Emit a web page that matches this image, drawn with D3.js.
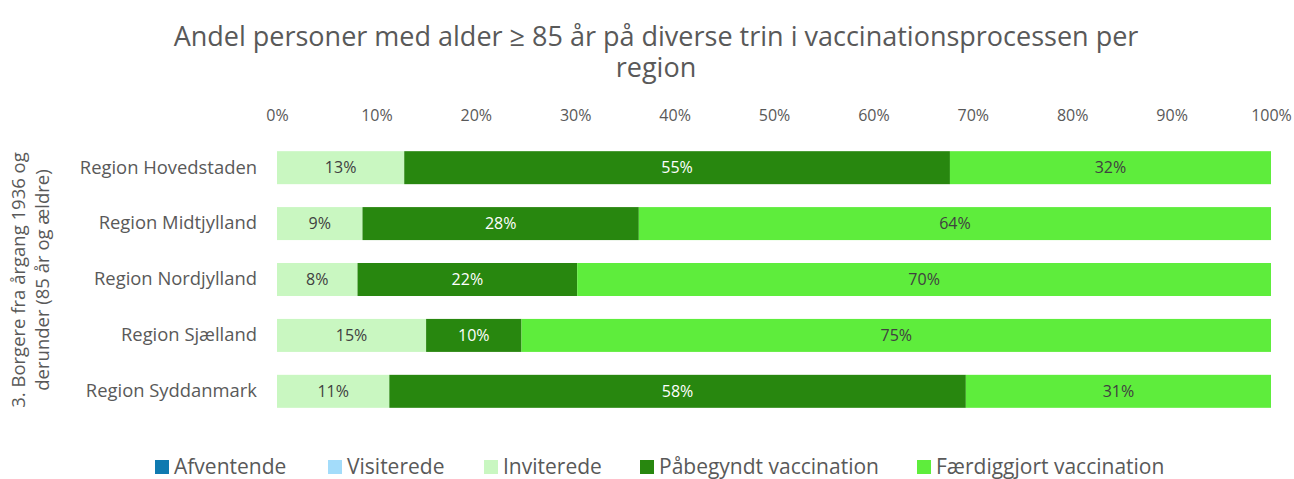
<!DOCTYPE html>
<html>
<head>
<meta charset="utf-8">
<script src="https://cdn.jsdelivr.net/npm/d3@7"></script>
<style>
  body { margin: 0; background: #fff; }
  svg text { font-family: "Open Sans", sans-serif; }
</style>
</head>
<body>
<svg id="chart" width="1294" height="479"></svg>
<script>
// data
var regions = ["Region Hovedstaden", "Region Midtjylland", "Region Nordjylland", "Region Sjælland", "Region Syddanmark"];
var seriesNames = ["Afventende", "Visiterede", "Inviterede", "Påbegyndt vaccination", "Færdiggjort vaccination"];
var afventende = [0, 0, 0, 0, 0];
var visiterede = [0, 0, 0, 0, 0];
var inviterede = [0.128, 0.086, 0.081, 0.150, 0.113];
var paabegyndt = [0.549, 0.278, 0.221, 0.096, 0.580];
var faerdig = [0.323, 0.636, 0.698, 0.754, 0.307];
var tickValues = [0, 0.1, 0.2, 0.3, 0.4, 0.5, 0.6, 0.7, 0.8, 0.9, 1.0];

var colors = ["#0f7ab0", "#a3dcfa", "#c9f7c1", "#28870f", "#5eed3c"];
var labelColors = ["#404040", "#404040", "#404040", "#ffffff", "#404040"];

var svg = d3.select("#chart");
var margin = {left: 277, right: 23, top: 140, bottom: 62};
var width = 1294 - margin.left - margin.right;
var allSeries = [afventende, visiterede, inviterede, paabegyndt, faerdig];

var table = regions.map(function(r, i) {
	var row = {region: r};
	seriesNames.forEach(function(s, j) { row[s] = allSeries[j][i]; });
	return row;
});
var stacked = d3.stack().keys(seriesNames)(table);

var x = d3.scaleLinear().domain([0, 1]).range([margin.left, margin.left + width]);
var y = d3.scaleBand().domain(regions).range([margin.top, 419]).paddingInner(0.41).paddingOuter(0.2);

// title
var title = svg.append("text")
	.attr("x", 656).attr("y", 46)
	.attr("text-anchor", "middle")
	.style("font-size", "27px").style("fill", "#595959");
title.append("tspan").attr("x", 656).attr("dy", 0).text("Andel personer med alder ≥ 85 år på diverse trin i vaccinationsprocessen per");
title.append("tspan").attr("x", 656).attr("dy", 31).text("region");

// top axis
var xAxis = d3.axisTop(x).tickValues(tickValues).tickFormat(d3.format(".0%")).tickSize(0).tickPadding(0);
svg.append("g").attr("transform", "translate(0,121)").call(xAxis)
	.call(function(g) { g.select(".domain").remove(); })
	.selectAll("text").style("font-size", "16px").style("fill", "#595959").style("font-family", "Open Sans, sans-serif");

// bars
var groups = svg.selectAll("g.series").data(stacked).enter().append("g")
	.attr("class", "series")
	.attr("fill", function(d, i) { return colors[i]; });

groups.selectAll("rect").data(function(d) { return d; }).enter().append("rect")
	.attr("x", function(d) { return x(d[0]); })
	.attr("y", function(d) { return y(d.data.region); })
	.attr("width", function(d) { return x(d[1]) - x(d[0]); })
	.attr("height", y.bandwidth());

// data labels
stacked.forEach(function(s, i) {
	svg.append("g").selectAll("text").data(s.filter(function(d) { return d[1] - d[0] > 0; })).enter().append("text")
		.attr("x", function(d) { return (x(d[0]) + x(d[1])) / 2; })
		.attr("y", function(d) { return y(d.data.region) + y.bandwidth() / 2; })
		.attr("dy", "0.35em")
		.attr("text-anchor", "middle")
		.style("font-size", "16px")
		.style("fill", labelColors[i])
		.text(function(d) { return Math.round((d[1] - d[0]) * 100) + "%"; });
});

// category labels
var yAxis = d3.axisLeft(y).tickSize(0).tickPadding(20);
svg.append("g").attr("transform", "translate(" + margin.left + ",0)").call(yAxis)
	.call(function(g) { g.select(".domain").remove(); })
	.selectAll("text").style("font-size", "18.4px").style("fill", "#595959").style("font-family", "Open Sans, sans-serif");

// y axis title
var yTitle = svg.append("text")
	.attr("transform", "translate(25,280) rotate(-90)")
	.attr("text-anchor", "middle")
	.style("font-size", "18.5px").style("fill", "#595959");
yTitle.append("tspan").attr("x", 0).attr("dy", 0).text("3. Borgere fra årgang 1936 og");
yTitle.append("tspan").attr("x", 0).attr("dy", 24).text("derunder (85 år og ældre)");

// legend
var legendX = [155, 328, 484, 640, 917];
var legend = svg.append("g").attr("transform", "translate(0,460)");
seriesNames.forEach(function(s, i) {
	legend.append("rect").attr("x", legendX[i]).attr("y", 0).attr("width", 14).attr("height", 14).attr("fill", colors[i]);
	legend.append("text").attr("x", legendX[i] + 19).attr("y", 7).attr("dy", "0.35em")
		.style("font-size", "21px").style("fill", "#595959").text(s);
});
</script>
</body>
</html>
